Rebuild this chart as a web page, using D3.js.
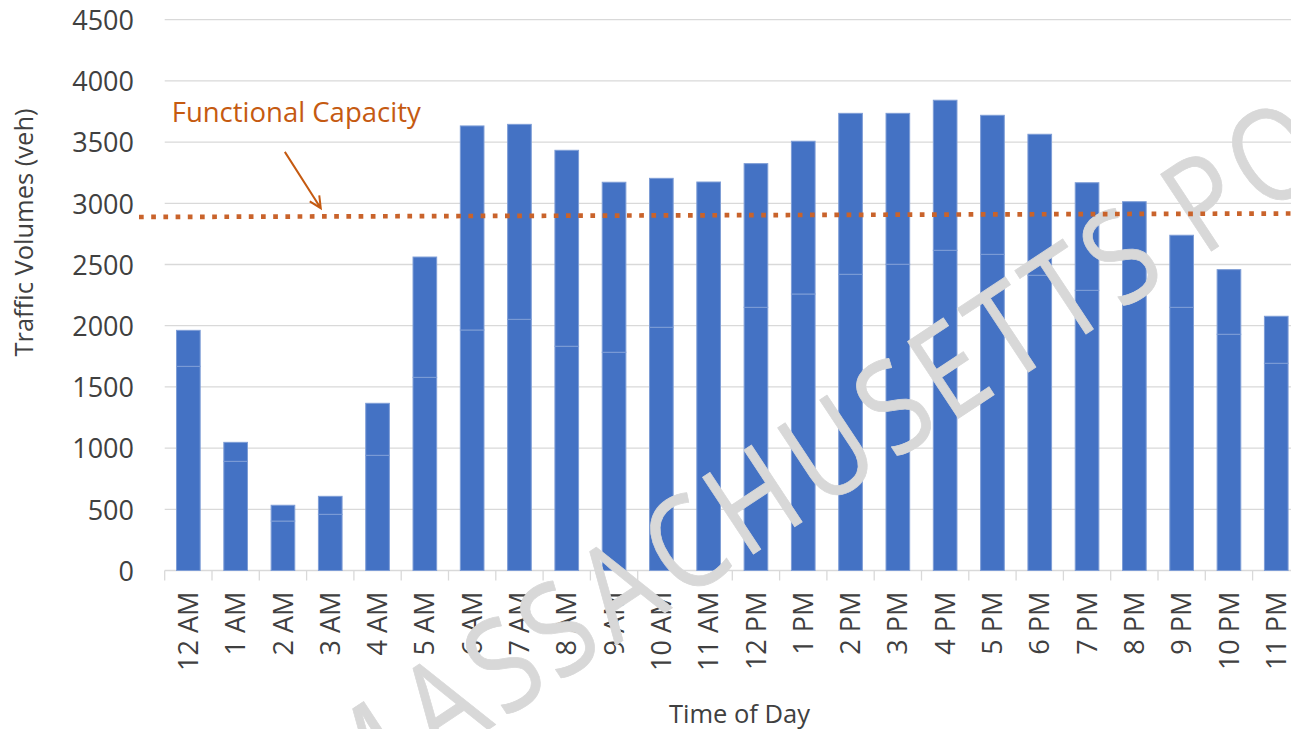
<!DOCTYPE html>
<html>
<head>
<meta charset="utf-8">
<script src="https://cdn.jsdelivr.net/npm/d3@7/dist/d3.min.js"></script>
<style>
  html, body { margin: 0; padding: 0; background: #ffffff; overflow: hidden; }
  svg { display: block; }
</style>
</head>
<body>
<svg id="chart" width="1291" height="729"></svg>
<script>
// ---------------- data ----------------
const hours = ["12 AM","1 AM","2 AM","3 AM","4 AM","5 AM","6 AM","7 AM","8 AM","9 AM","10 AM","11 AM",
               "12 PM","1 PM","2 PM","3 PM","4 PM","5 PM","6 PM","7 PM","8 PM","9 PM","10 PM","11 PM"];
// total hourly traffic volume (veh)
const totalVolumes = [1962, 1047, 533, 606, 1366, 2561, 3632, 3645, 3433, 3172, 3204, 3174,
                      3324, 3507, 3735, 3735, 3842, 3719, 3564, 3168, 3013, 2739, 2458, 2077];
// lower stacked segment (veh)
const lowerVolumes = [1668, 892, 404, 459, 941, 1578, 1965, 2052, 1832, 1783, 1987, 3174,
                      2150, 2259, 2420, 2502, 2616, 2583, 2412, 2289, 3013, 2150, 1930, 1693];
const yTicks = [0, 500, 1000, 1500, 2000, 2500, 3000, 3500, 4000, 4500];
const capacityValues = [2888, 2917];   // functional capacity line, left end / right end
const capacityLabel = "Functional Capacity";
const yTitle = "Traffic Volumes (veh)";
const xTitle = "Time of Day";
const watermark = "MASSACHUSETTS PORT";

// ---------------- layout ----------------
const svg = d3.select("#chart");
const left = 164.7, step = 47.3;
const x = d3.scaleBand().domain(hours).range([left, left + step * hours.length])
  .paddingInner(0.5).paddingOuter(0.25);
const y = d3.scaleLinear().domain([0, 4500]).range([570.5, 19.7]);
const xPos = k => x.range()[0] + k * x.step();

const FONT = "'Open Sans', 'Noto Sans', sans-serif";
const GRID = "#d9d9d9";
const TEXT = "#404040";
const ORANGE = "#C55A11";

// gridlines
svg.append("g").selectAll("line").data(yTicks.filter(d => d > 0)).join("line")
  .attr("x1", x.range()[0]).attr("x2", x.range()[1])
  .attr("y1", d => y(d)).attr("y2", d => y(d))
  .attr("stroke", GRID).attr("stroke-width", 1.3);

// x axis baseline + ticks between categories
const xAxis = d3.axisBottom(x).tickSize(0).tickFormat("");
const gx = svg.append("g").attr("transform", `translate(0,${y(0)})`).call(xAxis);
gx.select(".domain").attr("stroke", GRID).attr("stroke-width", 1.3).attr("d", `M${x.range()[0]},0H${x.range()[1]}`);
gx.selectAll(".tick").remove();
gx.selectAll("line.sep").data(d3.range(hours.length + 1)).join("line")
  .attr("class", "sep")
  .attr("x1", i => xPos(i)).attr("x2", i => xPos(i))
  .attr("y1", 0).attr("y2", 10)
  .attr("stroke", GRID).attr("stroke-width", 1.3);

// y axis labels
const yAxis = d3.axisLeft(y).tickValues(yTicks).tickFormat(d3.format("d")).tickSize(0).tickPadding(0);
const gy = svg.append("g").attr("transform", `translate(134,0)`).call(yAxis);
gy.select(".domain").remove();
gy.selectAll("text").attr("font-family", FONT).attr("font-size", 27).attr("fill", TEXT)
  .attr("x", 0).attr("dy", "0.36em").attr("text-anchor", "end");

// x labels, rotated
svg.append("g").selectAll("text").data(hours).join("text")
  .attr("transform", d => `translate(${x(d) + x.bandwidth() / 2 + 9.6},591.7) rotate(-90)`)
  .attr("text-anchor", "end")
  .attr("font-family", FONT).attr("font-size", 27).attr("fill", TEXT)
  .text(d => d);

// stacked bars
const rows = hours.map((h, i) => ({ hour: h, lower: lowerVolumes[i], upper: totalVolumes[i] - lowerVolumes[i] }));
const stack = d3.stack().keys(["lower", "upper"])(rows);
svg.append("g").selectAll("g").data(stack).join("g")
  .selectAll("rect").data(s => s.filter(d => d[1] - d[0] > 0)).join("rect")
  .attr("x", d => x(d.data.hour))
  .attr("width", x.bandwidth())
  .attr("y", d => y(d[1]))
  .attr("height", d => y(d[0]) - y(d[1]))
  .attr("fill", "#4472C4")
  .attr("stroke", "#7e9dd6").attr("stroke-width", 1);

// watermark: glyphs placed along a rotated baseline with Calibri-like advances
const advance = { M: .855, A: .579, S: .459, C: .533, H: .623, U: .653, E: .488, T: .487, P: .517, O: .662, R: .543, " ": .226 };
const wmSize = 141.5, wmAngle = -33.5 * Math.PI / 180;
const wmStart = [332.3, 832.8];
const dir = [Math.cos(wmAngle), Math.sin(wmAngle)];
let run = 0;
const glyphs = watermark.split("").map(ch => {
  const w = (advance[ch] || .5) * wmSize;
  const c = run + w / 2; run += w;
  return { ch, px: wmStart[0] + c * dir[0], py: wmStart[1] + c * dir[1] };
}).filter(g => g.ch !== " ");
svg.append("g").selectAll("text").data(glyphs).join("text")
  .attr("transform", g => `translate(${g.px},${g.py}) rotate(-33.5) scale(0.84,1)`)
  .attr("text-anchor", "middle")
  .attr("font-family", FONT).attr("font-size", 129)
  .attr("fill", "#d8d8d8").attr("stroke", "#d8d8d8").attr("stroke-width", 0.8)
  .attr("stroke-linejoin", "round")
  .text(g => g.ch);

// functional capacity dotted line
svg.append("line")
  .attr("x1", 139).attr("x2", x.range()[1])
  .attr("y1", y(capacityValues[0])).attr("y2", y(capacityValues[1]))
  .attr("stroke", "#C9632B").attr("stroke-width", 4.7)
  .attr("stroke-dasharray", "4.7 7.5");

// annotation label + arrow
svg.append("text")
  .attr("x", 171.7).attr("y", 121.7)
  .attr("font-family", FONT).attr("font-size", 27.5).attr("fill", ORANGE)
  .text(capacityLabel);

const ax0 = xPos(2.54), ay0 = y(3420), ax1 = xPos(3.30), ay1 = y(2960);
const ang = Math.atan2(ay1 - ay0, ax1 - ax0);
const wing = 13, spread = 0.45;
svg.append("path")
  .attr("d", `M${ax0},${ay0}L${ax1},${ay1}` +
    `M${ax1 - wing * Math.cos(ang - spread)},${ay1 - wing * Math.sin(ang - spread)}L${ax1},${ay1}` +
    `L${ax1 - wing * Math.cos(ang + spread)},${ay1 - wing * Math.sin(ang + spread)}`)
  .attr("fill", "none").attr("stroke", ORANGE).attr("stroke-width", 2);

// axis titles
svg.append("text")
  .attr("transform", "translate(33,232.5) rotate(-90)")
  .attr("text-anchor", "middle")
  .attr("font-family", FONT).attr("font-size", 25.5).attr("fill", TEXT)
  .text(yTitle);
svg.append("text")
  .attr("x", 739.5).attr("y", 723)
  .attr("text-anchor", "middle")
  .attr("font-family", FONT).attr("font-size", 25.5).attr("fill", TEXT)
  .text(xTitle);
</script>
</body>
</html>
